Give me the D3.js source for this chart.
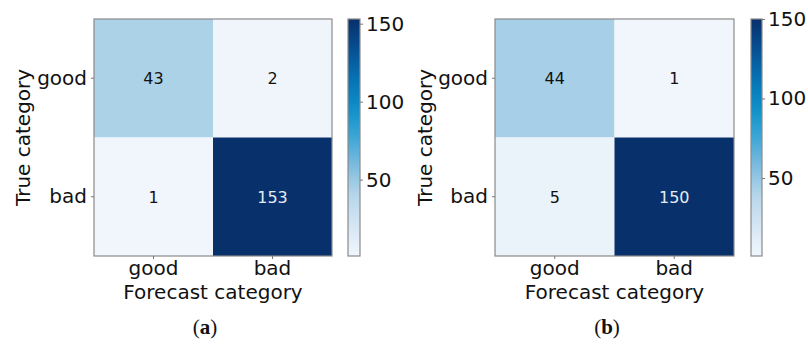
<!DOCTYPE html>
<html>
<head>
<meta charset="utf-8">
<script src="https://cdn.jsdelivr.net/npm/d3@7"></script>
<style>
  html, body { margin: 0; padding: 0; background: #fff; }
  svg { display: block; }
  text { font-family: "DejaVu Sans", sans-serif; fill: #111; }
</style>
</head>
<body>
<svg id="chart" width="808" height="345"></svg>
<script>
// Confusion matrices for two classifiers (rows: true category, columns: forecast)
const categories = ["good", "bad"];
const matrixA = [[43, 2], [1, 153]];
const matrixB = [[44, 1], [5, 150]];
const rangeA = [1, 153];
const rangeB = [1, 150];
const colorbarTicks = [50, 100, 150];
const captions = ["a", "b"];

// Blue sequential palette stops (piecewise linear)
const paletteStops = ["#f1f6fc", "#d6e6f4", "#b8d7eb", "#80bddf", "#3ea6d5", "#0d8fc8", "#0672b3", "#064f93", "#08306b"];
const palette = d3.piecewise(d3.interpolateRgb, paletteStops);

const svg = d3.select("#chart");
const defs = svg.append("defs");

function styleAxisText(a) {
  a.select(".domain").remove();
  a.selectAll("line").attr("stroke", "#777");
  a.selectAll("text").style("font-size", "20px").style("font-family", "DejaVu Sans, sans-serif").attr("fill", "#111");
}

function drawPanel(ox, matrix, range, caption, layout) {
  const g = svg.append("g").attr("transform", `translate(${ox},0)`);
  const { left, right, top, bottom, cbX, cbW, ylabX, capX } = layout;

  const x = d3.scaleBand().domain(categories).range([left, right]);
  const y = d3.scaleBand().domain(categories).range([top, bottom]);
  const color = d3.scaleSequential(palette).domain(range);

  const cells = [];
  matrix.forEach((row, i) => row.forEach((v, j) => cells.push({ r: categories[i], c: categories[j], v })));

  g.selectAll("rect.cell").data(cells).join("rect")
    .attr("class", "cell")
    .attr("x", d => x(d.c)).attr("y", d => y(d.r))
    .attr("width", x.bandwidth()).attr("height", y.bandwidth())
    .attr("fill", d => color(d.v));

  g.selectAll("text.val").data(cells).join("text")
    .attr("class", "val")
    .attr("x", d => x(d.c) + x.bandwidth() / 2)
    .attr("y", d => y(d.r) + y.bandwidth() / 2)
    .attr("text-anchor", "middle").attr("dy", "0.36em")
    .style("font-size", "16px")
    .style("fill", d => (d.v - range[0]) / (range[1] - range[0]) > 0.5 ? "#e4ebf3" : "#111")
    .text(d => d.v);

  g.append("rect")
    .attr("x", left).attr("y", top)
    .attr("width", right - left).attr("height", bottom - top)
    .attr("fill", "none").attr("stroke", "#8a8a8a").attr("stroke-width", 1.2);

  // Axes
  const xAxis = g.append("g").attr("transform", `translate(0,${bottom})`)
    .call(d3.axisBottom(x).tickSize(3).tickPadding(2));
  const yAxis = g.append("g").attr("transform", `translate(${left},0)`)
    .call(d3.axisLeft(y).tickSize(3).tickPadding(4));
  styleAxisText(xAxis);
  styleAxisText(yAxis);

  g.append("text")
    .attr("x", (left + right) / 2).attr("y", 299)
    .attr("text-anchor", "middle").style("font-size", "20px")
    .text("Forecast category");

  g.append("text")
    .attr("transform", `translate(${ylabX},${(top + bottom) / 2}) rotate(-90)`)
    .attr("text-anchor", "middle")
    .style("font-size", "20px")
    .text("True category");

  // Colorbar
  const gradId = "grad-" + caption;
  const grad = defs.append("linearGradient").attr("id", gradId)
    .attr("x1", 0).attr("y1", 1).attr("x2", 0).attr("y2", 0);
  d3.range(0, 1.0001, 0.05).forEach(t => {
    grad.append("stop").attr("offset", t).attr("stop-color", palette(t));
  });
  const cb = d3.scaleLinear().domain(range).range([bottom, top]);
  g.append("rect")
    .attr("x", cbX).attr("y", top).attr("width", cbW).attr("height", bottom - top)
    .attr("fill", `url(#${gradId})`).attr("stroke", "#8a8a8a").attr("stroke-width", 1.2);
  const cbAxis = g.append("g").attr("transform", `translate(${cbX + cbW},0)`)
    .call(d3.axisRight(cb).tickValues(colorbarTicks).tickSize(3).tickPadding(3));
  styleAxisText(cbAxis);

  // Caption
  const cap = g.append("text")
    .attr("x", capX).attr("y", 334)
    .attr("text-anchor", "middle")
    .style("font-family", "'Liberation Serif', serif")
    .style("font-size", "21px");
  cap.append("tspan").text("(");
  cap.append("tspan").style("font-weight", "bold").text(caption);
  cap.append("tspan").text(")");
}

drawPanel(0, matrixA, rangeA, captions[0],
  { left: 94, right: 332, top: 19, bottom: 256, cbX: 348, cbW: 12, ylabX: 30, capX: 205 });
drawPanel(404, matrixB, rangeB, captions[1],
  { left: 91, right: 330, top: 19, bottom: 256, cbX: 347, cbW: 11, ylabX: 28, capX: 203 });
</script>
</body>
</html>
